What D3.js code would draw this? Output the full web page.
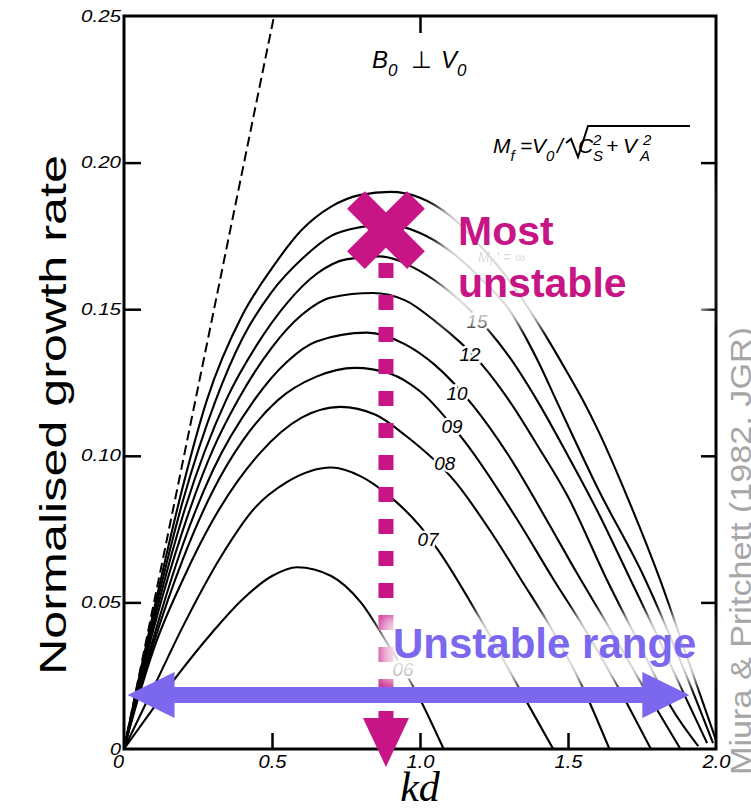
<!DOCTYPE html>
<html><head><meta charset="utf-8">
<script src="https://cdn.jsdelivr.net/npm/d3@7"></script>
<style>body{margin:0;background:#fff}svg{display:block}</style>
</head><body>
<svg id="chart" width="751" height="811"></svg>
<script>
// ---------- data (kd, normalised growth rate) ----------
const xTickValues = [0, 0.5, 1.0, 1.5, 2.0];
const xTickLabels = ["0", "0.5", "1.0", "1.5", "2.0"];
const yTickValues = [0, 0.05, 0.10, 0.15, 0.20, 0.25];
const yTickLabels = ["0", "0.05", "0.10", "0.15", "0.20", "0.25"];

const curveMfInf = [[0,0],[0.05,0.024],[0.1,0.047],[0.2,0.090],[0.28,0.119],[0.4,0.148],[0.5,0.164],[0.6,0.177],[0.7,0.185],[0.8,0.189],[0.9,0.190],[1.0,0.188],[1.1,0.182],[1.2,0.172],[1.3,0.160],[1.4,0.145],[1.5,0.128],[1.55,0.119],[1.6,0.109],[1.7,0.086],[1.81,0.058],[1.9,0.032],[2.0,0.003]];
const curveMf20 = [[0,0],[0.05,0.023],[0.1,0.045],[0.2,0.085],[0.31,0.119],[0.4,0.140],[0.5,0.156],[0.6,0.167],[0.7,0.175],[0.8,0.178],[0.88,0.179],[1.0,0.176],[1.1,0.170],[1.2,0.161],[1.3,0.150],[1.4,0.132],[1.46,0.119],[1.6,0.089],[1.76,0.058],[1.9,0.025],[1.99,0.002]];
const curveMf15 = [[0,0],[0.05,0.022],[0.1,0.043],[0.2,0.080],[0.345,0.119],[0.45,0.138],[0.55,0.152],[0.65,0.162],[0.75,0.167],[0.86,0.168],[1.0,0.163],[1.1,0.156],[1.23,0.143],[1.3,0.134],[1.395,0.119],[1.5,0.100],[1.6,0.081],[1.71,0.058],[1.8,0.039],[1.9,0.017],[1.97,0.002]];
const curveMf12 = [[0,0],[0.05,0.021],[0.1,0.041],[0.2,0.075],[0.3,0.102],[0.385,0.119],[0.5,0.137],[0.6,0.148],[0.7,0.154],[0.84,0.1555],[0.95,0.153],[1.05,0.146],[1.21,0.131],[1.30,0.119],[1.4,0.103],[1.5,0.086],[1.63,0.058],[1.75,0.034],[1.85,0.014],[1.94,0.001]];
const curveMf10 = [[0,0],[0.05,0.020],[0.1,0.038],[0.2,0.070],[0.3,0.095],[0.44,0.119],[0.55,0.132],[0.65,0.139],[0.82,0.142],[0.95,0.138],[1.05,0.131],[1.18,0.117],[1.3,0.100],[1.44,0.076],[1.53,0.060],[1.63,0.043],[1.75,0.022],[1.88,0.0]];
const curveMf09 = [[0,0],[0.05,0.019],[0.1,0.036],[0.2,0.065],[0.3,0.088],[0.4,0.105],[0.52,0.119],[0.65,0.127],[0.78,0.130],[0.9,0.128],[1.0,0.122],[1.15,0.105],[1.33,0.078],[1.45,0.058],[1.55,0.042],[1.67,0.021],[1.78,0.0]];
const curveMf08 = [[0,0],[0.05,0.018],[0.1,0.034],[0.2,0.058],[0.3,0.078],[0.46,0.101],[0.6,0.113],[0.73,0.1167],[0.85,0.114],[0.95,0.107],[1.12,0.091],[1.24,0.074],[1.34,0.058],[1.45,0.040],[1.55,0.021],[1.64,0.0]];
const curveMf07 = [[0,0],[0.1,0.021],[0.2,0.042],[0.33,0.066],[0.44,0.082],[0.55,0.091],[0.70,0.096],[0.8,0.093],[0.9,0.086],[1.0,0.076],[1.06,0.068],[1.2,0.045],[1.35,0.018],[1.45,0.0]];
const curveMf06 = [[0,0],[0.1,0.014],[0.18,0.025],[0.3,0.040],[0.4,0.051],[0.5,0.059],[0.585,0.062],[0.7,0.059],[0.8,0.050],[0.89,0.036],[1.0,0.017],[1.08,0.0]];
const dashedLimit = [[0,0],[0.507,0.25]];

const curveLabels = ["15", "12", "10", "09", "08", "07", "06"];
const curveLabelKd = [1.193, 1.169, 1.125, 1.108, 1.084, 1.027, 0.943];
const curveLabelRate = [0.1456, 0.1344, 0.121, 0.1098, 0.0972, 0.0713, 0.0269];

const mostUnstableKd = 0.885, mostUnstableRate = 0.177;
const unstableRange = [0.012, 1.91], unstableRangeRate = 0.0184;

// ---------- drawing ----------
const svg = d3.select("#chart");
const x = d3.scaleLinear().domain([0, 2]).range([124, 716]);
const y = d3.scaleLinear().domain([0, 0.25]).range([749, 16]);

const defs = svg.append("defs");
defs.append("filter").attr("id", "soft").attr("x", "-30%").attr("y", "-60%").attr("width", "160%").attr("height", "220%")
  .append("feGaussianBlur").attr("stdDeviation", 8);

const line = d3.line().x(d => x(d[0])).y(d => y(d[1])).curve(d3.curveMonotoneX);
const curves = [curveMfInf, curveMf20, curveMf15, curveMf12, curveMf10, curveMf09, curveMf08, curveMf07, curveMf06];

const plot = svg.append("g");
plot.selectAll("path.curve").data(curves).join("path")
  .attr("class", "curve").attr("d", line)
  .attr("fill", "none").attr("stroke", "#000").attr("stroke-width", 2.1);

plot.append("path").attr("d", d3.line().x(d => x(d[0])).y(d => y(d[1]))(dashedLimit))
  .attr("fill", "none").attr("stroke", "#000").attr("stroke-width", 2).attr("stroke-dasharray", "10 5");

// curve labels
plot.selectAll("text.clab").data(curveLabels).join("text")
  .attr("class", "clab")
  .attr("x", (d, i) => x(curveLabelKd[i])).attr("y", (d, i) => y(curveLabelRate[i]) + 6)
  .attr("text-anchor", "middle")
  .attr("font-family", "Liberation Sans, Arial, sans-serif").attr("font-style", "italic")
  .attr("font-size", 18).attr("fill", "#000")
  .attr("textLength", 21).attr("lengthAdjust", "spacingAndGlyphs")
  .attr("stroke", "#fff").attr("stroke-width", 5).attr("paint-order", "stroke")
  .text(d => d);

// Most-unstable dashed vertical line
const xm = x(mostUnstableKd), ym = y(mostUnstableRate);
svg.append("line").attr("x1", xm).attr("x2", xm).attr("y1", ym + 33).attr("y2", y(0) - 24)
  .attr("stroke", "#C71585").attr("stroke-width", 15).attr("stroke-dasharray", "15 17");

// frame & axes
svg.append("rect").attr("x", x(0)).attr("y", y(0.25)).attr("width", x(2) - x(0)).attr("height", y(0) - y(0.25))
  .attr("fill", "none").attr("stroke", "#000").attr("stroke-width", 3);

const inner = yTickValues.filter(v => v > 0 && v < 0.25);
const axL = svg.append("g").attr("transform", `translate(${x(0)},0)`)
  .call(d3.axisLeft(y).tickValues(inner).tickSize(-17).tickFormat(""));
const axR = svg.append("g").attr("transform", `translate(${x(2)},0)`)
  .call(d3.axisRight(y).tickValues(inner).tickSize(-15).tickFormat(""));
const axB = svg.append("g").attr("transform", `translate(0,${y(0)})`)
  .call(d3.axisBottom(x).tickValues([0.5, 1.0, 1.5]).tickSize(-16).tickFormat(""));
const axT = svg.append("g").attr("transform", `translate(0,${y(0.25)})`)
  .call(d3.axisTop(x).tickValues([1.0]).tickSize(-17).tickFormat(""));
[axL, axR, axB, axT].forEach(a => {
  a.select(".domain").remove();
  a.selectAll(".tick line").attr("stroke", "#000").attr("stroke-width", 2.5);
});

// tick labels
const yl = svg.append("g").attr("transform", `translate(${x(0)},0)`)
  .call(d3.axisLeft(y).tickValues(yTickValues).tickSize(0).tickPadding(3).tickFormat((d, i) => yTickLabels[i]));
yl.select(".domain").remove();
yl.selectAll("text").attr("font-family", "Liberation Sans, Arial, sans-serif").attr("font-style", "italic")
  .attr("font-size", 16).attr("fill", "#000")
  .attr("textLength", (d, i) => yTickLabels[i].length > 1 ? 40 : 11).attr("lengthAdjust", "spacingAndGlyphs");

const xl = svg.append("g").attr("transform", `translate(0,${y(0)})`)
  .call(d3.axisBottom(x).tickValues(xTickValues).tickSize(0).tickPadding(6).tickFormat((d, i) => xTickLabels[i]));
xl.select(".domain").remove();
xl.selectAll("text").attr("font-family", "Liberation Sans, Arial, sans-serif").attr("font-style", "italic")
  .attr("font-size", 18).attr("fill", "#000")
  .attr("textLength", (d, i) => xTickLabels[i].length > 1 ? 28 : 11).attr("lengthAdjust", "spacingAndGlyphs");
xl.selectAll(".tick").filter(d => d === 0).select("text").attr("dx", -6);

// axis titles
svg.append("text").attr("transform", "translate(66,415) rotate(-90)").attr("text-anchor", "middle")
  .attr("font-family", "Liberation Sans, Arial, sans-serif").attr("font-size", 36).attr("fill", "#000")
  .attr("textLength", 520).attr("lengthAdjust", "spacingAndGlyphs")
  .text("Normalised growth rate");
svg.append("text").attr("x", 420).attr("y", 801).attr("text-anchor", "middle")
  .attr("font-family", "Liberation Serif, DejaVu Serif, serif").attr("font-style", "italic").attr("font-size", 42)
  .text("kd");

// in-plot annotations (original figure)
const fAnn = "Liberation Sans, Arial, sans-serif";
const t1 = svg.append("text").attr("y", 68).attr("font-family", fAnn).attr("font-style", "italic").attr("font-size", 24);
t1.append("tspan").attr("x", 372).text("B");
t1.append("tspan").attr("dy", 8).attr("font-size", 17).text("0");
t1.append("tspan").attr("x", 411).attr("dy", -8).attr("font-style", "normal").text("⊥");
t1.append("tspan").attr("x", 441).text("V");
t1.append("tspan").attr("dy", 8).attr("font-size", 17).text("0");

const t2 = svg.append("text").attr("y", 153).attr("font-family", fAnn).attr("font-style", "italic").attr("font-size", 21);
t2.append("tspan").attr("x", 493).text("M");
t2.append("tspan").attr("dy", 8).attr("font-size", 15).text("f");
t2.append("tspan").attr("x", 520).attr("dy", -8).text("=");
t2.append("tspan").attr("x", 532).text("V");
t2.append("tspan").attr("dy", 8).attr("font-size", 15).text("0");
t2.append("tspan").attr("x", 557).attr("dy", -8).text("/");
t2.append("tspan").attr("x", 578).text("C");
t2.append("tspan").attr("x", 593).attr("dy", 8).attr("font-size", 15).text("S");
t2.append("tspan").attr("x", 593).attr("dy", -16).attr("font-size", 15).text("2");
t2.append("tspan").attr("x", 606).attr("dy", 8).text("+");
t2.append("tspan").attr("x", 623).text("V");
t2.append("tspan").attr("x", 640).attr("dy", 8).attr("font-size", 15).text("A");
t2.append("tspan").attr("x", 643).attr("dy", -16).attr("font-size", 15).text("2");
svg.append("path").attr("d", "M566,143 L571,139 L578,157 L588,126 L690,126")
  .attr("fill", "none").attr("stroke", "#000").attr("stroke-width", 2);

// faint Mf = inf label (under the overlay)
const t3 = svg.append("text").attr("x", 478).attr("y", 262).attr("font-family", fAnn).attr("font-style", "italic")
  .attr("font-size", 14).attr("fill", "#000");
t3.append("tspan").text("M");
t3.append("tspan").attr("dy", 4).attr("font-size", 10).text("f");
t3.append("tspan").attr("dy", -4).text(" ' = ∞");

// white soft overlays behind the highlight texts
svg.append("rect").attr("x", 440).attr("y", 185).attr("width", 265).attr("height", 140)
  .attr("fill", "#fff").attr("opacity", 0.85).attr("filter", "url(#soft)");
svg.append("rect").attr("x", 380).attr("y", 615).attr("width", 325).attr("height", 68)
  .attr("fill", "#fff").attr("opacity", 0.85).attr("filter", "url(#soft)");

// Most-unstable cross
const armL = 85, armW = 25;
[45, -45].forEach(a => {
  svg.append("rect").attr("x", -armL / 2).attr("y", -armW / 2).attr("width", armL).attr("height", armW)
    .attr("fill", "#C71585").attr("transform", `translate(${xm},${ym}) rotate(${a})`);
});
// arrow head under the dashed line
const baseY = y(0) - 31, tipY = y(0) + 18;
svg.append("path").attr("d", `M${xm - 23},${baseY} L${xm + 23},${baseY} L${xm},${tipY} Z`).attr("fill", "#C71585");

svg.append("text").attr("x", 458).attr("y", 245).attr("font-family", fAnn).attr("font-weight", "bold")
  .attr("font-size", 41).attr("fill", "#C71585").text("Most");
svg.append("text").attr("x", 458).attr("y", 297).attr("font-family", fAnn).attr("font-weight", "bold")
  .attr("font-size", 41).attr("fill", "#C71585").text("unstable");

// Unstable-range double arrow
const ax0 = x(unstableRange[0]), ax1 = x(unstableRange[1]), ay = y(unstableRangeRate);
const hl = 47, hh = 23, sh = 8;
svg.append("path").attr("d",
  `M${ax0},${ay} L${ax0 + hl},${ay - hh} L${ax0 + hl},${ay - sh} L${ax1 - hl},${ay - sh} L${ax1 - hl},${ay - hh} L${ax1},${ay} ` +
  `L${ax1 - hl},${ay + hh} L${ax1 - hl},${ay + sh} L${ax0 + hl},${ay + sh} L${ax0 + hl},${ay + hh} Z`)
  .attr("fill", "#7B68EE");
svg.append("text").attr("x", 393).attr("y", 658).attr("font-family", fAnn).attr("font-weight", "bold")
  .attr("font-size", 42).attr("fill", "#7B68EE").text("Unstable range");

// source credit
svg.append("text").attr("transform", "translate(751,775) rotate(-90)").attr("text-anchor", "start")
  .attr("font-family", fAnn).attr("font-size", 29).attr("fill", "#a6a6a6")
  .attr("textLength", 448).attr("lengthAdjust", "spacingAndGlyphs")
  .text("Miura & Pritchett (1982, JGR)");
</script>
</body></html>
